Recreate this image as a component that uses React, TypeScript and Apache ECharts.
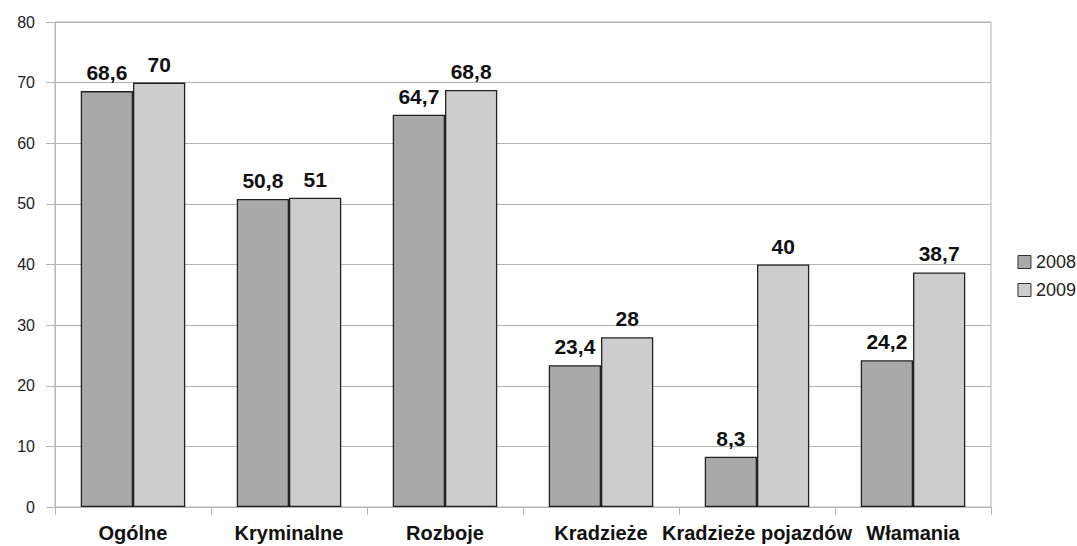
import React, { useEffect, useRef } from "react";
import * as echarts from "echarts";

const categories = ["Ogólne", "Kryminalne", "Rozboje", "Kradzieże", "Kradzieże pojazdów", "Włamania"];
const values2008 = [68.6, 50.8, 64.7, 23.4, 8.3, 24.2];
const values2009 = [70, 51, 68.8, 28, 40, 38.7];
const seriesNames = ["2008", "2009"];

const FONT = "'Liberation Sans', Arial, sans-serif";
const fmt = (v: number) => String(v).replace(".", ",");

export default function App() {
  const ref = useRef<HTMLDivElement>(null);
  useEffect(() => {
    if (!ref.current) return;
    const chart = echarts.init(ref.current, null, { renderer: "svg" });
    const label = {
      show: true,
      position: "top" as const,
      distance: 8,
      fontFamily: FONT,
      fontWeight: "bold" as const,
      fontSize: 21,
      color: "#111",
      formatter: (p: any) => fmt(p.value),
    };
    chart.setOption({
      animation: false,
      backgroundColor: "#fff",
      grid: {
        left: 55,
        right: 86,
        top: 22,
        bottom: 39,
        show: true,
        borderColor: "#b4b4b4",
        borderWidth: 1,
      },
      legend: {
        orient: "vertical",
        right: 1,
        top: 253,
        padding: 0,
        itemWidth: 13,
        itemHeight: 13,
        itemGap: 10,
        icon: "rect",
        itemStyle: { borderColor: "#333", borderWidth: 1 },
        textStyle: { fontFamily: FONT, fontSize: 18, lineHeight: 18, color: "#222" },
        data: seriesNames,
      },
      xAxis: {
        type: "category",
        data: categories,
        axisLine: { lineStyle: { color: "#b4b4b4" } },
        axisTick: { show: true, length: 8, lineStyle: { color: "#b4b4b4" } },
        axisLabel: {
          fontFamily: FONT,
          fontWeight: "bold",
          fontSize: 20,
          color: "#111",
          margin: 16,
          interval: 0,
        },
      },
      yAxis: {
        type: "value",
        min: 0,
        max: 80,
        interval: 10,
        axisLine: { show: true, lineStyle: { color: "#b4b4b4" } },
        axisTick: { show: true, length: 9, lineStyle: { color: "#b4b4b4" } },
        splitLine: { lineStyle: { color: "#b4b4b4" } },
        axisLabel: {
          fontFamily: FONT,
          fontSize: 16,
          color: "#222",
          margin: 20,
        },
      },
      series: [
        {
          name: seriesNames[0],
          type: "bar",
          data: values2008,
          barGap: "0%",
          barCategoryGap: "33%",
          itemStyle: { color: "#a9a9a9", borderColor: "#222", borderWidth: 1.3 },
          label,
        },
        {
          name: seriesNames[1],
          type: "bar",
          data: values2009,
          itemStyle: { color: "#cdcdcd", borderColor: "#222", borderWidth: 1.3 },
          label,
        },
      ],
    });
    return () => chart.dispose();
  }, []);
  return (
    <div
      ref={ref}
      style={{ position: "absolute", left: 0, top: 0, width: 1077, height: 546 }}
    />
  );
}
